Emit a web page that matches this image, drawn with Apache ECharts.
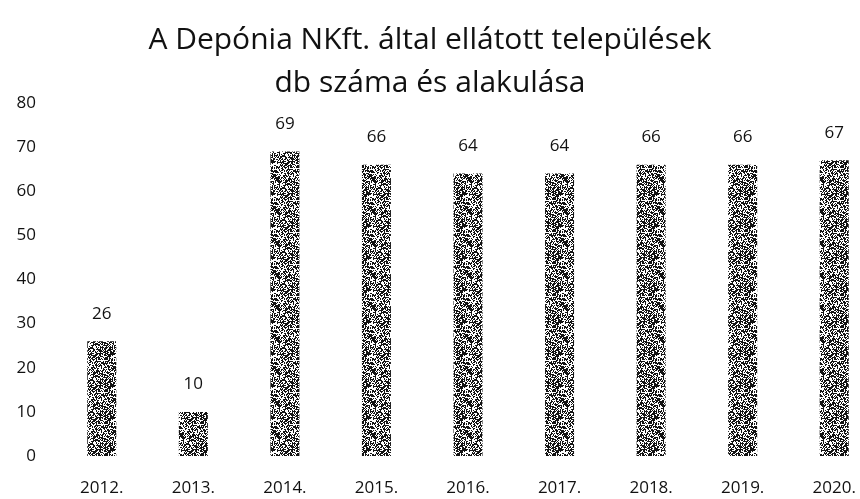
<!DOCTYPE html>
<html>
<head>
<meta charset="utf-8">
<script src="https://cdn.jsdelivr.net/npm/echarts@6/dist/echarts.min.js"></script>
<style>
  html, body { margin: 0; padding: 0; background: #fff; }
  #chart { width: 860px; height: 499px; }
</style>
</head>
<body>
<div id="chart"></div>
<script>
var years = ["2012.", "2013.", "2014.", "2015.", "2016.", "2017.", "2018.", "2019.", "2020."];
var counts = [26, 10, 69, 66, 64, 64, 66, 66, 67];
var titleText = "A Depónia NKft. által ellátott települések\ndb száma és alakulása";

// speckled grey fill like the scanned bars (fixed hash, tiles seamlessly)
function makePattern() {
  var n = 32;
  var c = document.createElement("canvas");
  c.width = n; c.height = n;
  var ctx = c.getContext("2d");
  ctx.fillStyle = "#ffffff";
  ctx.fillRect(0, 0, n, n);
  ctx.fillStyle = "#141414";
  for (var y = 0; y < n; y++) {
    for (var x = 0; x < n; x++) {
      var h = Math.imul(x * 374761393 + y * 668265263, 1274126177) >>> 0;
      h = (h ^ (h >>> 13)) >>> 0;
      if ((h % 100) < 55) ctx.fillRect(x, y, 1, 1);
    }
  }
  return c;
}

var myChart = echarts.init(document.getElementById("chart"));
var option = {
  backgroundColor: "#ffffff",
  animation: false,
  title: {
    text: titleText,
    left: "center",
    top: 14,
    textStyle: {
      fontFamily: "Open Sans",
      fontWeight: "normal",
      fontSize: 30,
      lineHeight: 43,
      color: "#111"
    }
  },
  grid: {
    left: 56,
    width: 824,
    top: 103,
    bottom: 43,
    outerBoundsMode: "none"
  },
  xAxis: {
    type: "category",
    data: years,
    axisLine: { show: false },
    axisTick: { show: false },
    axisLabel: {
      margin: 24,
      fontFamily: "Open Sans",
      fontSize: 17,
      color: "#111"
    }
  },
  yAxis: {
    type: "value",
    min: 0,
    max: 80,
    interval: 10,
    splitLine: { show: false },
    axisLine: { show: false },
    axisTick: { show: false },
    axisLabel: {
      margin: 20,
      fontFamily: "Open Sans",
      fontSize: 17,
      color: "#111"
    }
  },
  series: [
    {
      type: "bar",
      data: counts,
      barWidth: 29,
      itemStyle: {
        color: { image: makePattern(), repeat: "repeat" }
      },
      label: {
        show: true,
        position: "top",
        distance: 19,
        fontFamily: "Open Sans",
        fontSize: 17,
        color: "#111"
      }
    }
  ]
};
myChart.setOption(option, true);
</script>
</body>
</html>
